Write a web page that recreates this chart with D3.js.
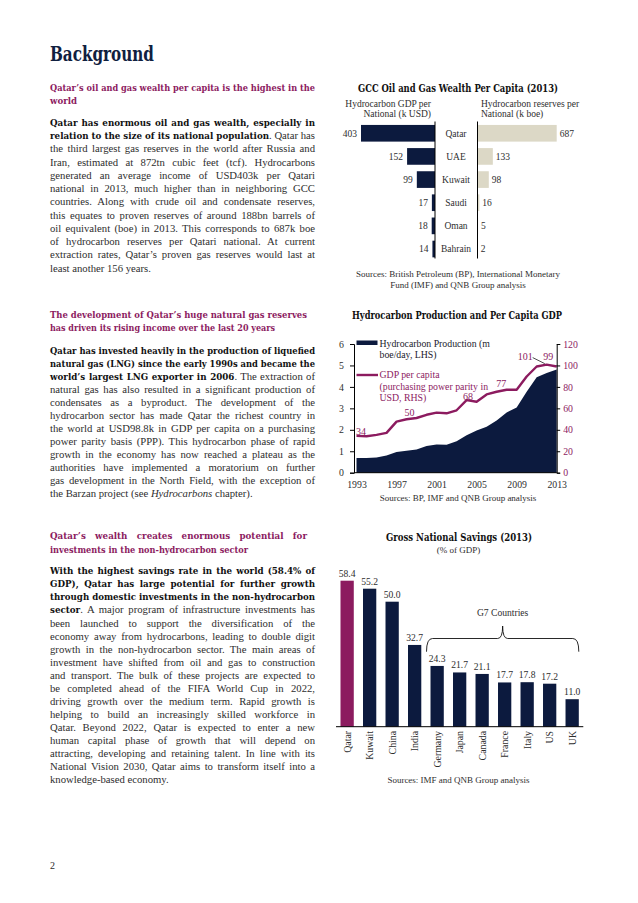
<!DOCTYPE html>
<html>
<head>
<meta charset="utf-8">
<script src="https://cdn.jsdelivr.net/npm/d3@7"></script>
<style>
  body { margin: 0; background: #fff; }
  svg { display: block; }
</style>
</head>
<body>
<svg id="page"></svg>
<script>
const width = 638;
const height = 903;

const navy = "#0c1a3e";
const purple = "#8c1b5f";
const beige = "#dcd8c6";
const ink = "#2e2e2e";
const serif = "'Liberation Serif', serif";
const slab = "'DejaVu Serif Condensed', 'DejaVu Serif', serif";

// GCC oil and gas wealth per capita (2013)
const gccCountries = ["Qatar", "UAE", "Kuwait", "Saudi", "Oman", "Bahrain"];
const gdpPerNational = [403, 152, 99, 17, 18, 14];
const reservesPerNational = [687, 133, 98, 16, 5, 2];

// Hydrocarbon production and per capita GDP
const years = [1993, 1994, 1995, 1996, 1997, 1998, 1999, 2000, 2001, 2002, 2003,
               2004, 2005, 2006, 2007, 2008, 2009, 2010, 2011, 2012, 2013];
const production = [0.69, 0.69, 0.71, 0.80, 0.97, 1.02, 1.08, 1.24, 1.31, 1.30, 1.47,
                    1.75, 1.97, 2.14, 2.43, 2.81, 3.04, 3.77, 4.45, 4.65, 4.81];
const gdpPerCapita = [34.3, 34.0, 35.3, 37.1, 47.6, 49.8, 51.0, 54.0, 56.0, 55.4, 58.2,
                      67.7, 66.2, 73.0, 75.5, 77.3, 77.3, 89.7, 99.0, 100.8, 99.0];
const yearTicks = [1993, 1997, 2001, 2005, 2009, 2013];
const leftTicks = [0, 1, 2, 3, 4, 5, 6];
const rightTicks = [0, 20, 40, 60, 80, 100, 120];
const gdpLabelYears = [1993, 1998, 2004, 2008, 2012, 2013];

// Gross national savings (2013, % of GDP)
const savingsCountries = ["Qatar", "Kuwait", "China", "India", "Germany", "Japan",
                          "Canada", "France", "Italy", "US", "UK"];
const savingsRates = [58.4, 55.2, 50.0, 32.7, 24.3, 21.7, 21.1, 17.7, 17.8, 17.2, 11.0];
const g7Countries = ["Germany", "Japan", "Canada", "France", "Italy", "US", "UK"];

const svg = d3.select("#page")
    .attr("width", width)
    .attr("height", height)
    .style("background", "#fff");

// ---------- left column text ----------
const colX = 50;
const colW = 265;

function fitLine(sel, w, justify) {
    const node = sel.node();
    const natural = node.getComputedTextLength();
    const spaces = (node.textContent.match(/ /g) || []).length;
    if (natural > w) {
        sel.attr("textLength", w).attr("lengthAdjust", "spacingAndGlyphs");
    } else if (justify && spaces > 0) {
        sel.attr("word-spacing", (w - natural) / spaces);
    }
}

function writeLines(lines, y0, step, opts) {
    lines.forEach((line, i) => {
        const t = svg.append("text")
            .attr("x", colX)
            .attr("y", y0 + i * step)
            .attr("font-family", opts.family)
            .attr("font-size", opts.size)
            .attr("fill", opts.color)
            .style("white-space", "pre");
        line.segs.forEach(s => {
            const ts = t.append("tspan").text(s[0]);
            if (s[1] === "b") ts.attr("font-family", slab).attr("font-weight", "bold").attr("fill", "#111").attr("font-size", opts.boldSize || opts.size);
            if (s[1] === "i") ts.attr("font-style", "italic");
        });
        if (opts.weight) t.attr("font-weight", opts.weight);
        fitLine(t, line.w || colW, line.w == null || line.j);
    });
}

// title
const title = svg.append("text")
    .attr("x", colX)
    .attr("y", 60.5)
    .attr("font-family", slab)
    .attr("font-weight", "bold")
    .attr("font-size", 19.5)
    .attr("fill", "#102040")
    .text("Background");
fitLine(title, 104, false);

const headingOpts = { family: slab, size: 9.7, color: purple, weight: "bold" };
const bodyOpts = { family: serif, size: 10.7, color: ink, boldSize: 9.7 };

writeLines([
    { segs: [["Qatar’s oil and gas wealth per capita is the highest in the"]] },
    { segs: [["world"]], w: 27 }
], 91, 13.3, headingOpts);

writeLines([
    { segs: [["Qatar has enormous oil and gas wealth, especially in", "b"]] },
    { segs: [["relation to the size of its national population", "b"], [". Qatar has"]] },
    { segs: [["the third largest gas reserves in the world after Russia and"]] },
    { segs: [["Iran, estimated at 872tn cubic feet (tcf). Hydrocarbons"]] },
    { segs: [["generated an average income of USD403k per Qatari"]] },
    { segs: [["national in 2013, much higher than in neighboring GCC"]] },
    { segs: [["countries. Along with crude oil and condensate reserves,"]] },
    { segs: [["this equates to proven reserves of around 188bn barrels of"]] },
    { segs: [["oil equivalent (boe) in 2013. This corresponds to 687k boe"]] },
    { segs: [["of hydrocarbon reserves per Qatari national. At current"]] },
    { segs: [["extraction rates, Qatar’s proven gas reserves would last at"]] },
    { segs: [["least another 156 years."]], w: 108 }
], 125.7, 13.27, bodyOpts);

writeLines([
    { segs: [["The development of Qatar’s huge natural gas reserves"]], w: 257, j: true },
    { segs: [["has driven its rising income over the last 20 years"]], w: 225 }
], 318.3, 12.6, headingOpts);

writeLines([
    { segs: [["Qatar has invested heavily in the production of liquefied", "b"]] },
    { segs: [["natural gas (LNG) since the early 1990s and became the", "b"]] },
    { segs: [["world’s largest LNG exporter in 2006", "b"], [". The extraction of"]] },
    { segs: [["natural gas has also resulted in a significant production of"]] },
    { segs: [["condensates as a byproduct. The development of the"]] },
    { segs: [["hydrocarbon sector has made Qatar the richest country in"]] },
    { segs: [["the world at USD98.8k in GDP per capita on a purchasing"]] },
    { segs: [["power parity basis (PPP). This hydrocarbon phase of rapid"]] },
    { segs: [["growth in the economy has now reached a plateau as the"]] },
    { segs: [["authorities have implemented a moratorium on further"]] },
    { segs: [["gas development in the North Field, with the exception of"]] },
    { segs: [["the Barzan project (see "], ["Hydrocarbons", "i"], [" chapter)."]], w: 210 }
], 354, 12.97, bodyOpts);

writeLines([
    { segs: [["Qatar’s wealth creates enormous potential for"]], w: 257, j: true },
    { segs: [["investments in the non-hydrocarbon sector"]], w: 198 }
], 539.3, 13.2, headingOpts);

writeLines([
    { segs: [["With the highest savings rate in the world (58.4% of", "b"]] },
    { segs: [["GDP), Qatar has large potential for further growth", "b"]] },
    { segs: [["through domestic investments in the non-hydrocarbon", "b"]] },
    { segs: [["sector", "b"], [". A major program of infrastructure investments has"]] },
    { segs: [["been launched to support the diversification of the"]] },
    { segs: [["economy away from hydrocarbons, leading to double digit"]] },
    { segs: [["growth in the non-hydrocarbon sector. The main areas of"]] },
    { segs: [["investment have shifted from oil and gas to construction"]] },
    { segs: [["and transport. The bulk of these projects are expected to"]] },
    { segs: [["be completed ahead of the FIFA World Cup in 2022,"]] },
    { segs: [["driving growth over the medium term. Rapid growth is"]] },
    { segs: [["helping to build an increasingly skilled workforce in"]] },
    { segs: [["Qatar. Beyond 2022, Qatar is expected to enter a new"]] },
    { segs: [["human capital phase of growth that will depend on"]] },
    { segs: [["attracting, developing and retaining talent. In line with its"]] },
    { segs: [["National Vision 2030, Qatar aims to transform itself into a"]] },
    { segs: [["knowledge-based economy."]], w: 126 }
], 574.3, 13.06, bodyOpts);

// page number
svg.append("text")
    .attr("x", 50)
    .attr("y", 868.5)
    .attr("font-family", serif)
    .attr("font-size", 10)
    .attr("fill", ink)
    .text("2");

// helper for chart titles
function chartTitle(text, cx, y, w) {
    const t = svg.append("text")
        .attr("x", cx)
        .attr("y", y)
        .attr("text-anchor", "middle")
        .attr("font-family", slab)
        .attr("font-weight", "bold")
        .attr("font-size", 10.8)
        .attr("fill", "#111")
        .text(text);
    t.attr("textLength", w).attr("lengthAdjust", "spacingAndGlyphs");
}

function smallText(text, x, y, anchor, color, size) {
    return svg.append("text")
        .attr("x", x)
        .attr("y", y)
        .attr("text-anchor", anchor)
        .attr("font-family", serif)
        .attr("font-size", size || 9.5)
        .attr("fill", color || ink)
        .text(text);
}

// ---------- chart 1: GCC wealth per capita ----------
chartTitle("GCC Oil and Gas Wealth Per Capita (2013)", 458, 92, 200);
smallText("Hydrocarbon GDP per", 431, 106.5, "end");
smallText("National (k USD)", 431, 116.8, "end");
smallText("Hydrocarbon reserves per", 481, 106.5, "start");
smallText("National (k boe)", 481, 116.8, "start");

const gccData = gccCountries.map((c, i) => ({ country: c, gdp: gdpPerNational[i], res: reservesPerNational[i] }));

const rowScale = d3.scaleBand()
    .domain(gccCountries)
    .range([121.7, 260.6])
    .paddingInner(0.28)
    .paddingOuter(0.14);

const leftX = d3.scaleLinear()
    .domain([0, d3.max(gdpPerNational)])
    .range([435, 361]);

const rightX = d3.scaleLinear()
    .domain([0, d3.max(reservesPerNational)])
    .range([477.5, 556.7]);

svg.selectAll(".gdp-bar")
    .data(gccData)
    .enter()
    .append("rect")
    .attr("class", "gdp-bar")
    .attr("x", d => leftX(d.gdp))
    .attr("y", d => rowScale(d.country))
    .attr("width", d => leftX(0) - leftX(d.gdp))
    .attr("height", rowScale.bandwidth())
    .attr("fill", navy);

svg.selectAll(".res-bar")
    .data(gccData)
    .enter()
    .append("rect")
    .attr("class", "res-bar")
    .attr("x", rightX(0))
    .attr("y", d => rowScale(d.country))
    .attr("width", d => rightX(d.res) - rightX(0))
    .attr("height", rowScale.bandwidth())
    .attr("fill", beige);

gccData.forEach(d => {
    const cy = rowScale(d.country) + rowScale.bandwidth() / 2 + 3.3;
    smallText(d.gdp, leftX(d.gdp) - 4, cy, "end");
    smallText(d.res, rightX(d.res) + 3, cy, "start");
    smallText(d.country, 456, cy, "middle");
});

[435, 477.5].forEach(x => {
    svg.append("line")
        .attr("x1", x).attr("x2", x)
        .attr("y1", 121.5).attr("y2", 258.5)
        .attr("stroke", "#000")
        .attr("stroke-width", 1);
});

smallText("Sources: British Petroleum (BP), International Monetary", 458, 276.5, "middle", ink, 9);
smallText("Fund (IMF) and QNB Group analysis", 458, 287.5, "middle", ink, 9);

// ---------- chart 2: production and GDP per capita ----------
chartTitle("Hydrocarbon Production and Per Capita GDP", 457, 318.8, 210);

const xYear = d3.scaleLinear().domain([1993, 2013]).range([356.5, 556.7]);
const yProd = d3.scaleLinear().domain([0, 6]).range([472.7, 344]);
const yGdp = d3.scaleLinear().domain([0, 120]).range([472.7, 344]);

const series = years.map((y, i) => ({ year: y, prod: production[i], gdp: gdpPerCapita[i] }));

svg.append("path")
    .datum(series)
    .attr("d", d3.area().x(d => xYear(d.year)).y0(yProd(0)).y1(d => yProd(d.prod)))
    .attr("fill", navy);

svg.append("path")
    .datum(series)
    .attr("d", d3.line().x(d => xYear(d.year)).y(d => yGdp(d.gdp)))
    .attr("fill", "none")
    .attr("stroke", purple)
    .attr("stroke-width", 2.4)
    .attr("stroke-linejoin", "round");

const leftAxis = svg.append("g")
    .attr("transform", "translate(354,0)")
    .call(d3.axisLeft(yProd).tickValues(leftTicks).tickSize(4).tickPadding(6).tickFormat(d3.format("d")));

const rightAxis = svg.append("g")
    .attr("transform", "translate(556.7,0)")
    .call(d3.axisRight(yGdp).tickValues(rightTicks).tickSize(3.5).tickPadding(3).tickFormat(d3.format("d")));

const bottomAxis = svg.append("g")
    .attr("transform", "translate(0,472.7)")
    .call(d3.axisBottom(xYear).tickValues(yearTicks).tickSize(0).tickPadding(8).tickFormat(d3.format("d")));

bottomAxis.select(".domain").attr("d", "M354,0H556.7");

[leftAxis, rightAxis, bottomAxis].forEach(ax => {
    ax.selectAll("text").attr("font-family", serif).attr("font-size", 9.8).attr("fill", ink);
    ax.selectAll("line").attr("stroke", "#000");
    ax.select(".domain").attr("stroke", "#000");
});
rightAxis.selectAll("text").attr("fill", purple);

// legend
svg.append("rect").attr("x", 356.5).attr("y", 340.5).attr("width", 21).attr("height", 4.5).attr("fill", navy);
smallText("Hydrocarbon Production (m", 379.5, 346.5, "start", "#1a1a2a", 9.8);
smallText("boe/day, LHS)", 379.5, 357.5, "start", "#1a1a2a", 9.8);
svg.append("line").attr("x1", 356.5).attr("x2", 378).attr("y1", 375).attr("y2", 375)
    .attr("stroke", purple).attr("stroke-width", 2.4);
smallText("GDP per capita", 379.5, 378.3, "start", purple, 9.8);
smallText("(purchasing power parity in", 379.5, 390, "start", purple, 9.8);
smallText("USD, RHS)", 379.5, 401, "start", purple, 9.8);

// value labels on GDP line
const labelOffsets = [[4, -1, "start"], [3, -3, "middle"], [1.5, -0.5, "middle"], [-5.5, -2.3, "middle"], [-21.5, -4.5, "middle"], [-8.5, -6.5, "middle"]];
gdpLabelYears.forEach((yr, i) => {
    const v = gdpPerCapita[years.indexOf(yr)];
    const o = labelOffsets[i];
    smallText(d3.format(".0f")(v), xYear(yr) + o[0], yGdp(v) + o[1], o[2], purple, 10)
        .attr("x", i === 0 ? 356 : xYear(yr) + o[0]);
});
// leader line for 2012 label
svg.append("line")
    .attr("x1", xYear(2012) - 14).attr("y1", yGdp(100.8) - 7)
    .attr("x2", xYear(2012) - 2).attr("y2", yGdp(100.8) - 1)
    .attr("stroke", "#000").attr("stroke-width", 0.7);

smallText("Sources: BP, IMF and QNB Group analysis", 458, 500.5, "middle", ink, 9);

// ---------- chart 3: gross national savings ----------
chartTitle("Gross National Savings (2013)", 459, 541, 146);
smallText("(% of GDP)", 458.5, 553, "middle", ink, 9);

const savings = savingsCountries.map((c, i) => ({ country: c, rate: savingsRates[i] }));

const xBand = d3.scaleBand()
    .domain(savingsCountries)
    .range([336, 583.3])
    .paddingInner(0.41)
    .paddingOuter(0.2);

const ySav = d3.scaleLinear().domain([0, 60]).range([726.7, 576.7]);

svg.selectAll(".sav-bar")
    .data(savings)
    .enter()
    .append("rect")
    .attr("class", "sav-bar")
    .attr("x", d => xBand(d.country))
    .attr("y", d => ySav(d.rate))
    .attr("width", xBand.bandwidth())
    .attr("height", d => ySav(0) - ySav(d.rate))
    .attr("fill", d => d.country === "Qatar" ? purple : navy);

savings.forEach(d => {
    smallText(d3.format(".1f")(d.rate), xBand(d.country) + xBand.bandwidth() / 2, ySav(d.rate) - 4, "middle", ink, 9.6);
    const cx = xBand(d.country) + xBand.bandwidth() / 2 + 3.4;
    smallText(d.country, 0, 0, "end", ink, 9.8)
        .attr("transform", `translate(${cx},731) rotate(-90)`);
});

svg.append("line")
    .attr("x1", 336).attr("x2", 583.3)
    .attr("y1", ySav(0)).attr("y2", ySav(0))
    .attr("stroke", "#000").attr("stroke-width", 1);

// G7 brace
const bx0 = xBand(g7Countries[0]) - 4;
const bx1 = xBand(g7Countries[g7Countries.length - 1]) + xBand.bandwidth();
const bxm = (bx0 + bx1) / 2;
const by = 638.5;
svg.append("path")
    .attr("d", `M${bx0},651.7 Q${bx0},${by} ${bx0 + 6},${by} L${bxm - 5},${by} Q${bxm},${by} ${bxm},626 ` +
               `Q${bxm},${by} ${bxm + 5},${by} L${bx1 - 6},${by} Q${bx1},${by} ${bx1},651.7`)
    .attr("fill", "none")
    .attr("stroke", "#111")
    .attr("stroke-width", 0.9);
smallText("G7 Countries", bxm, 615.8, "middle", ink, 9.6);

smallText("Sources: IMF and QNB Group analysis", 458.5, 783, "middle", ink, 9);
</script>
</body>
</html>
